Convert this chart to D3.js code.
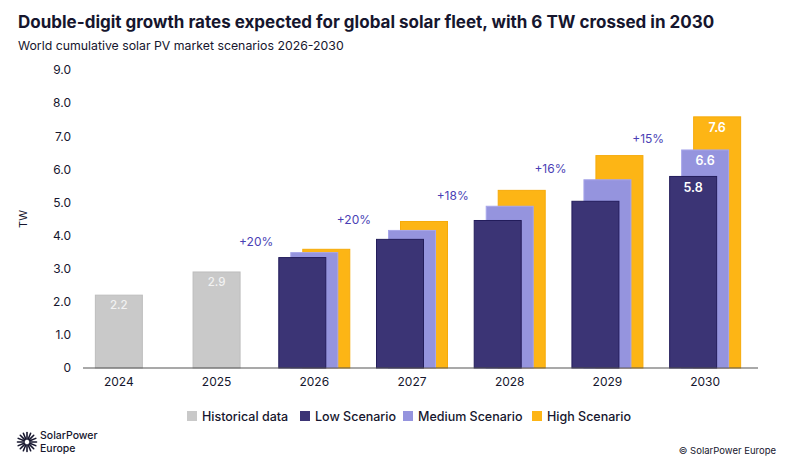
<!DOCTYPE html>
<html>
<head>
<meta charset="utf-8">
<script src="https://cdn.jsdelivr.net/npm/d3@7"></script>
<style>
  body { margin: 0; background: #fff; }
  svg { display: block; font-family: Inter, "Noto Sans", sans-serif; }
</style>
</head>
<body>
<svg id="chart" width="800" height="467"></svg>
<script>
const years = ['2024', '2025', '2026', '2027', '2028', '2029', '2030'];
const histYears = ['2024', '2025'];
const historical = [2.2, 2.9];
const scenYears = ['2026', '2027', '2028', '2029', '2030'];
const lowScen = [3.35, 3.9, 4.47, 5.05, 5.8];
const medScen = [3.5, 4.17, 4.9, 5.7, 6.6];
const highScen = [3.6, 4.44, 5.38, 6.43, 7.6];
const growth = ['+20%', '+20%', '+18%', '+16%', '+15%'];
const yTicks = [0, 1, 2, 3, 4, 5, 6, 7, 8, 9];
const labelled = ['2030'];

const ink = '#16162e';
const barW = 48;
const colors = {
    hist: '#c9c9c9', histStroke: '#bdbdbd',
    low: '#3b3475', lowStroke: '#231d5b',
    med: '#9594de', medStroke: '#a7a6ea',
    high: '#fdb515', highStroke: '#f6aa0a'
};

var svg = d3.select('#chart');

var x = d3.scaleBand()
    .domain(years)
    .range([70, 754]);
var y = d3.scaleLinear()
    .domain([0, 9])
    .range([368, 70]);
var offset = d3.scalePoint()
    .domain(['low', 'med', 'high'])
    .range([-12, 12]);

function cx(year) {
    return x(year) + x.bandwidth() / 2;
}

// titles
svg.append('text')
    .attr('x', 18).attr('y', 28)
    .attr('font-size', 17).attr('font-weight', 700)
    .attr('fill', ink)
    .text('Double-digit growth rates expected for global solar fleet, with 6 TW crossed in 2030');
svg.append('text')
    .attr('x', 18).attr('y', 50)
    .attr('font-size', 12.3).attr('fill', ink)
    .text('World cumulative solar PV market scenarios 2026-2030');

// y axis
svg.append('g')
    .attr('transform', 'translate(71,0)')
    .call(d3.axisLeft(y).tickValues(yTicks).tickSize(0).tickPadding(0)
        .tickFormat(d => d === 0 ? '0' : d3.format('.1f')(d)))
    .call(g => g.select('.domain').remove())
    .call(g => g.selectAll('text')
        .attr('font-family', 'Inter, "Noto Sans", sans-serif')
        .attr('font-size', 12).attr('fill', ink));

svg.append('text')
    .attr('transform', `translate(27,${y(4.5)}) rotate(-90)`)
    .attr('text-anchor', 'middle')
    .attr('font-size', 11).attr('fill', ink)
    .text('TW');

// historical bars
let histData = histYears.map((d, i) => ({year: d, v: historical[i]}));
svg.append('g').selectAll('rect')
    .data(histData)
    .enter()
    .append('rect')
    .attr('x', d => cx(d.year) - barW / 2 + 0.5)
    .attr('y', d => y(d.v))
    .attr('width', barW - 1)
    .attr('height', d => y(0) - y(d.v))
    .attr('fill', colors.hist)
    .attr('stroke', colors.histStroke);

svg.append('g').selectAll('text')
    .data(histData)
    .enter()
    .append('text')
    .attr('x', d => cx(d.year))
    .attr('y', d => y(d.v) + 14)
    .attr('text-anchor', 'middle')
    .attr('font-size', 11.5).attr('font-weight', 500)
    .attr('fill', '#f2f2f2')
    .text(d => d.v.toFixed(1));

// scenario bars, high at the back, low in front
let series = [
    {key: 'high', vals: highScen},
    {key: 'med', vals: medScen},
    {key: 'low', vals: lowScen}
];
series.forEach(s => {
    let data = scenYears.map((d, i) => ({year: d, v: s.vals[i]}));
    let g = svg.append('g');
    g.selectAll('rect')
        .data(data)
        .enter()
        .append('rect')
        .attr('x', d => cx(d.year) + offset(s.key) - barW / 2 + 0.5)
        .attr('y', d => y(d.v) + 0.5)
        .attr('width', barW - 1)
        .attr('height', d => y(0) - y(d.v) - 0.5)
        .attr('fill', colors[s.key])
        .attr('stroke', colors[s.key + 'Stroke']);
    g.selectAll('text')
        .data(data.filter(d => labelled.includes(d.year)))
        .enter()
        .append('text')
        .attr('x', d => cx(d.year) + offset(s.key))
        .attr('y', d => y(d.v) + 16)
        .attr('text-anchor', 'middle')
        .attr('font-size', 12.5).attr('font-weight', 600)
        .attr('fill', '#fff')
        .text(d => d.v.toFixed(1));
});

// growth labels
svg.append('g').selectAll('text')
    .data(scenYears)
    .enter()
    .append('text')
    .attr('x', (d, i) => cx(d) + offset('low') - barW / 2 - 5)
    .attr('y', (d, i) => y(medScen[i]) - 6)
    .attr('text-anchor', 'end')
    .attr('font-size', 12).attr('fill', '#4a3fb5')
    .text((d, i) => growth[i]);

// x axis
svg.append('line')
    .attr('x1', 83).attr('x2', 758)
    .attr('y1', y(0)).attr('y2', y(0))
    .attr('stroke', '#555').attr('stroke-width', 1.2);
svg.append('g').selectAll('text')
    .data(years)
    .enter()
    .append('text')
    .attr('x', d => cx(d))
    .attr('y', y(0) + 18)
    .attr('text-anchor', 'middle')
    .attr('font-size', 12).attr('fill', ink)
    .text(d => d);

// legend
const legendItems = [
    {label: 'Historical data', color: colors.hist, x: 187},
    {label: 'Low Scenario', color: colors.low, x: 300},
    {label: 'Medium Scenario', color: colors.med, x: 403},
    {label: 'High Scenario', color: colors.high, x: 532}
];
let leg = svg.append('g').selectAll('g')
    .data(legendItems)
    .enter()
    .append('g')
    .attr('transform', d => `translate(${d.x},411)`);
leg.append('rect')
    .attr('width', 10).attr('height', 10)
    .attr('fill', d => d.color);
leg.append('text')
    .attr('x', 15).attr('y', 9.5)
    .attr('font-size', 12.5).attr('font-weight', 500)
    .attr('fill', ink)
    .text(d => d.label);

// logo
let logo = svg.append('g').attr('transform', 'translate(27,442)');
d3.range(16).forEach(i => {
    let a = i / 16 * 2 * Math.PI;
    logo.append('line')
        .attr('x1', 3 * Math.cos(a)).attr('y1', 3 * Math.sin(a))
        .attr('x2', 9.5 * Math.cos(a)).attr('y2', 9.5 * Math.sin(a))
        .attr('stroke', ink).attr('stroke-width', 1.6)
        .attr('stroke-linecap', 'round');
});
svg.append('text')
    .attr('x', 40).attr('y', 439)
    .attr('font-size', 10.5).attr('font-weight', 500).attr('fill', ink)
    .text('SolarPower');
svg.append('text')
    .attr('x', 40).attr('y', 452)
    .attr('font-size', 10.5).attr('font-weight', 500).attr('fill', ink)
    .text('Europe');

svg.append('text')
    .attr('x', 776).attr('y', 454)
    .attr('text-anchor', 'end')
    .attr('font-size', 9.5).attr('fill', ink)
    .text('© SolarPower Europe');
</script>
</body>
</html>
